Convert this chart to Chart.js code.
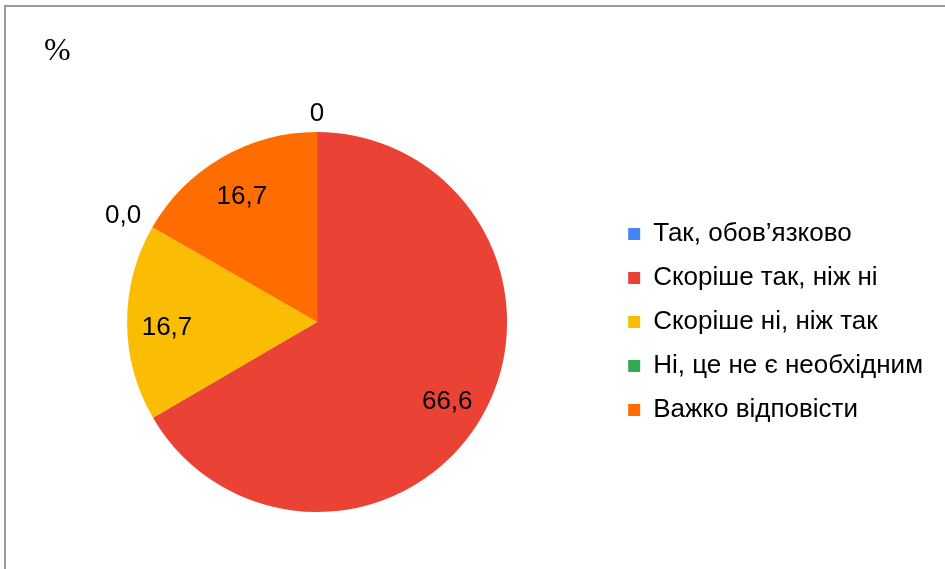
<!DOCTYPE html>
<html>
<head>
<meta charset="utf-8">
<script src="https://cdn.jsdelivr.net/npm/chart.js@4/dist/chart.umd.min.js"></script>
<style>
  body { margin: 0; background: #fff; }
  #wrap { position: relative; width: 945px; height: 569px; }
  #frame { position: absolute; left: 4px; top: 5px; right: -10px; bottom: -10px;
           border-top: 2px solid #9a9a9a; border-left: 2px solid #9a9a9a; pointer-events: none; }
</style>
</head>
<body>
<div id="wrap">
  <canvas id="pie" width="945" height="569"></canvas>
  <div id="frame"></div>
</div>
<script>
const categories = ['Так, обов’язково', 'Скоріше так, ніж ні', 'Скоріше ні, ніж так', 'Ні, це не є необхідним', 'Важко відповісти'];
const values = [0, 66.6, 16.7, 0.0, 16.7];
const valueLabels = ['0', '66,6', '16,7', '0,0', '16,7'];
const colors = ['#4285F4', '#EA4335', '#FBBC04', '#34A853', '#FF6D01'];

// draws the value labels: inside for real slices, just outside for empty ones
const sliceLabels = {
  id: 'sliceLabels',
  afterDatasetsDraw(chart) {
    const ctx = chart.ctx;
    const arcs = chart.getDatasetMeta(0).data;
    ctx.save();
    ctx.font = '26px "Liberation Sans", Arial, sans-serif';
    ctx.fillStyle = '#000';
    ctx.textAlign = 'center';
    ctx.textBaseline = 'middle';
    arcs.forEach((arc, i) => {
      const p = arc.getProps(['x', 'y', 'startAngle', 'endAngle', 'outerRadius'], true);
      const mid = (p.startAngle + p.endAngle) / 2;
      const w = ctx.measureText(valueLabels[i]).width;
      let r, dy = 0;
      if (values[i] > 0) { r = p.outerRadius * 0.79; dy = 5; }
      else { r = p.outerRadius + 18 + 0.5 * w * Math.abs(Math.cos(mid)); dy = Math.abs(Math.cos(mid)) * 6; }
      ctx.fillText(valueLabels[i], p.x + r * Math.cos(mid), p.y + r * Math.sin(mid) + dy);
    });
    ctx.restore();
  }
};

// the "%" unit mark in the top-left corner
const unitMark = {
  id: 'unitMark',
  afterDraw(chart) {
    const ctx = chart.ctx;
    ctx.save();
    ctx.font = '32px "Liberation Serif", "Times New Roman", serif';
    ctx.fillStyle = '#000';
    ctx.textBaseline = 'middle';
    ctx.fillText('%', 44, 52);
    ctx.restore();
  }
};

new Chart(document.getElementById('pie').getContext('2d'), {
  type: 'pie',
  data: {
    labels: categories,
    datasets: [{
      data: values,
      backgroundColor: colors,
      borderWidth: 0
    }]
  },
  options: {
    responsive: false,
    animation: false,
    layout: { padding: { top: 132, bottom: 57, left: 24, right: 12 } },
    plugins: {
      tooltip: { enabled: false },
      legend: {
        position: 'right',
        labels: {
          font: { family: '"Liberation Sans", Arial, sans-serif', size: 26 },
          color: '#000',
          boxWidth: 12,
          boxHeight: 12,
          padding: 18
        }
      }
    }
  },
  plugins: [sliceLabels, unitMark]
});
</script>
</body>
</html>
